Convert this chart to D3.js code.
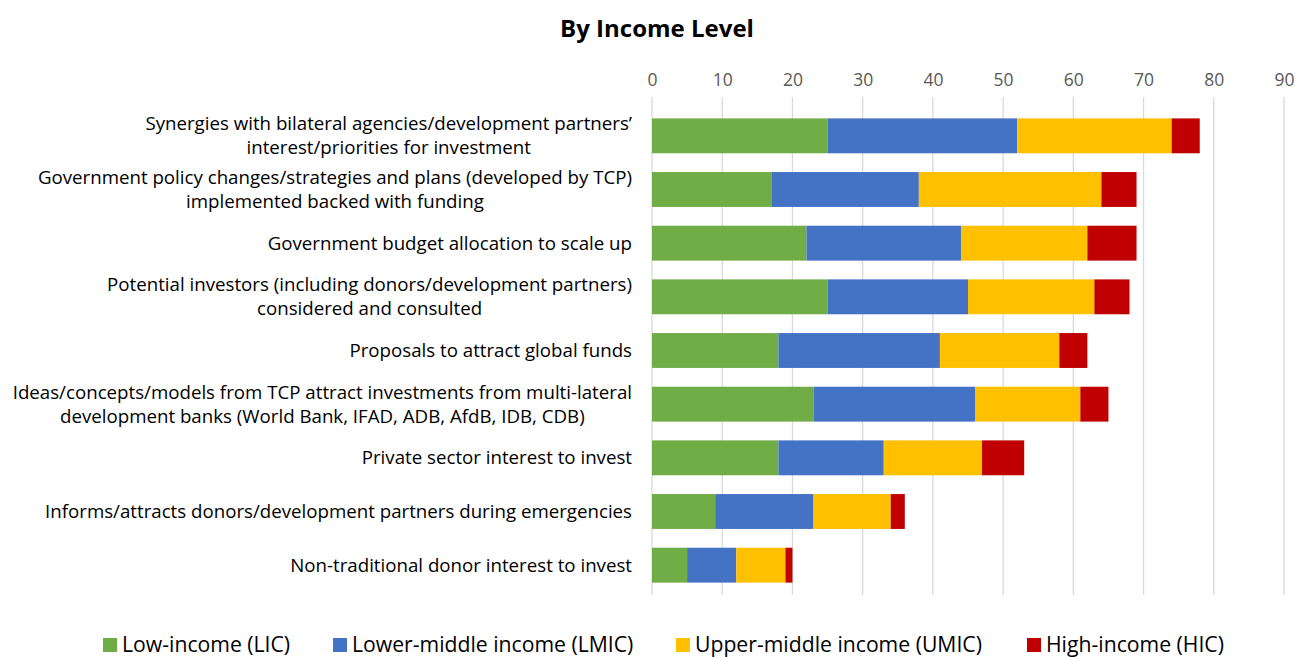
<!DOCTYPE html>
<html>
<head>
<meta charset="utf-8">
<script src="https://cdn.jsdelivr.net/npm/d3@7"></script>
<style>
  body { margin: 0; background: #fff; }
  text { font-family: "Open Sans", Lato, sans-serif; }
</style>
</head>
<body>
<script>
// categories, top to bottom ("\n" marks a line break in the label)
var categories = [
  "Synergies with bilateral agencies/development partners’\ninterest/priorities for investment",
  "Government policy changes/strategies and plans (developed by TCP)\nimplemented backed with funding",
  "Government budget allocation to scale up",
  "Potential investors (including donors/development partners)\nconsidered and consulted",
  "Proposals to attract global funds",
  "Ideas/concepts/models from TCP attract investments from multi-lateral\ndevelopment banks (World Bank, IFAD, ADB, AfdB, IDB, CDB)",
  "Private sector interest to invest",
  "Informs/attracts donors/development partners during emergencies",
  "Non-traditional donor interest to invest"
];

var seriesNames = ["Low-income (LIC)", "Lower-middle income (LMIC)", "Upper-middle income (UMIC)", "High-income (HIC)"];
var lic  = [25, 17, 22, 25, 18, 23, 18, 9, 5];
var lmic = [27, 21, 22, 20, 23, 23, 15, 14, 7];
var umic = [22, 26, 18, 18, 17, 15, 14, 11, 7];
var hic  = [4, 5, 7, 5, 4, 4, 6, 2, 1];
var xTicks = [0, 10, 20, 30, 40, 50, 60, 70, 80, 90];

var colors = ["#70AD47", "#4472C4", "#FFC000", "#C00000"];

var width = 1295, height = 657;
var svg = d3.select("body").append("svg")
  .attr("width", width)
  .attr("height", height);

svg.append("text")
  .attr("x", 657).attr("y", 37)
  .attr("text-anchor", "middle")
  .style("font-size", "24px")
  .style("font-weight", "bold")
  .style("fill", "#000")
  .text("By Income Level");

var x = d3.scaleLinear().domain([0, 90]).range([652, 1284]);
var y = d3.scaleBand().domain(categories).range([109, 592]).paddingInner(0.35).paddingOuter(0.175);

// gridlines
svg.append("g").selectAll("line").data(xTicks).enter()
  .append("line")
  .attr("x1", function(d) { return x(d); })
  .attr("x2", function(d) { return x(d); })
  .attr("y1", 97).attr("y2", 595)
  .attr("stroke", "#d9d9d9")
  .attr("stroke-width", 1.3);

// top axis labels
var xAxis = d3.axisTop(x).tickValues(xTicks).tickSize(0).tickPadding(0);
var ax = svg.append("g").attr("transform", "translate(0,86)").call(xAxis);
ax.select(".domain").remove();
ax.selectAll("text")
  .attr("dy", 0)
  .style("font-family", "'Open Sans', Lato, sans-serif")
  .style("font-size", "17.5px")
  .style("fill", "#595959");

// stacked data
var rows = categories.map(function(c, i) {
  return { cat: c, lic: lic[i], lmic: lmic[i], umic: umic[i], hic: hic[i] };
});
var keys = ["lic", "lmic", "umic", "hic"];
var stacked = d3.stack().keys(keys)(rows);

svg.append("g").selectAll("g").data(stacked).enter()
  .append("g")
  .attr("fill", function(d, i) { return colors[i]; })
  .selectAll("rect").data(function(d) { return d; }).enter()
  .append("rect")
  .attr("x", function(d) { return x(d[0]); })
  .attr("y", function(d) { return y(d.data.cat); })
  .attr("width", function(d) { return x(d[1]) - x(d[0]); })
  .attr("height", y.bandwidth());

// category labels: centred lines, block right edge at 632
var labelRight = 632, lineH = 24;
categories.forEach(function(c) {
  var lines = c.split("\n");
  var cy = y(c) + y.bandwidth() / 2;
  var t = svg.append("text")
    .attr("text-anchor", "middle")
    .style("font-size", "18.7px")
    .style("fill", "#000");
  var spans = lines.map(function(l, j) {
    return t.append("tspan")
      .attr("y", cy + (j - (lines.length - 1) / 2) * lineH)
      .attr("dy", "0.35em")
      .text(l);
  });
  var maxW = d3.max(spans, function(s) { return s.node().getComputedTextLength(); });
  spans.forEach(function(s) { s.attr("x", labelRight - maxW / 2); });
});

// legend
var legendX = [103, 333, 676, 1027];
var lg = svg.append("g").selectAll("g").data(seriesNames).enter()
  .append("g")
  .attr("transform", function(d, i) { return "translate(" + legendX[i] + ",638)"; });
lg.append("rect")
  .attr("width", 14).attr("height", 14)
  .attr("fill", function(d, i) { return colors[i]; });
lg.append("text")
  .attr("x", 19).attr("y", 7).attr("dy", "0.35em")
  .style("font-size", "21.2px")
  .style("fill", "#000")
  .text(function(d) { return d; });
</script>
</body>
</html>
